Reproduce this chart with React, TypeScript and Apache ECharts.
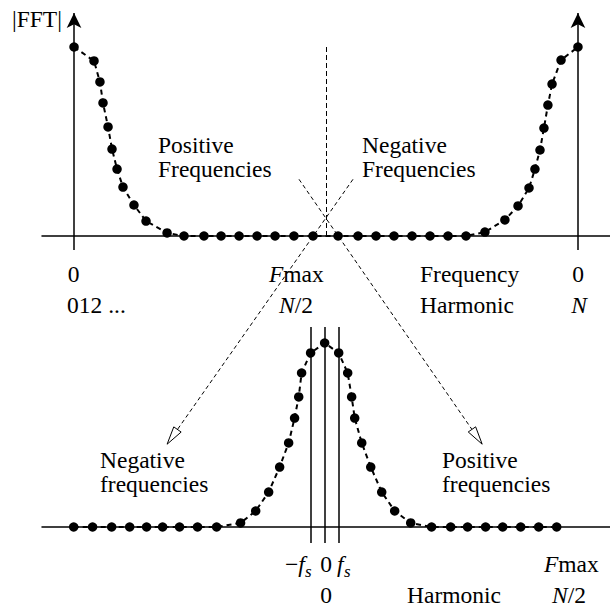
import React, { useEffect, useRef } from 'react';
import * as echarts from 'echarts';

// Top panel: harmonic index k (0..N) and |FFT| magnitude (peak = 1)
const topHarmonic = [
  0, 1.11, 1.44, 1.61, 1.89, 2.11, 2.39, 2.72, 3.33, 4.0, 5.17,
  6.11, 7.22, 8.17, 9.17, 10.17, 11.17, 12.22, 13.28,
  14.67, 15.78, 16.78, 17.78, 18.78, 19.78, 20.78, 21.78,
  22.83, 23.94, 24.67, 25.28, 25.61, 25.89, 26.11, 26.33, 26.56, 27.06, 28,
];
const topMagnitude = [
  1.0, 0.926, 0.815, 0.704, 0.577, 0.46, 0.354, 0.259, 0.164, 0.079, 0.016,
  0, 0, 0, 0, 0, 0, 0, 0,
  0, 0, 0, 0, 0, 0, 0, 0,
  0.021, 0.085, 0.159, 0.254, 0.354, 0.455, 0.571, 0.693, 0.804, 0.931, 1.0,
];

// Bottom panel: re-centred harmonic index (0 = DC) and magnitude
const bottomHarmonic = [
  -13.94, -12.89, -11.83, -10.83, -9.89, -9.0, -8.06, -7.06, -6.0,
  -4.67, -3.83, -3.11, -2.5, -2.0, -1.67, -1.44, -1.28, -0.78,
  0,
  0.78, 1.28, 1.5, 1.67, 2.06, 2.56, 3.17, 3.89, 4.78,
  5.94, 7.0, 7.94, 8.94, 9.89, 10.89, 11.89, 12.89,
];
const bottomMagnitude = [
  0, 0, 0, 0, 0, 0, 0, 0, 0,
  0.022, 0.087, 0.19, 0.326, 0.457, 0.592, 0.707, 0.837, 0.946,
  1.0,
  0.946, 0.837, 0.707, 0.592, 0.457, 0.326, 0.19, 0.087, 0.022,
  0, 0, 0, 0, 0, 0, 0, 0,
];

const N = 28;
const FS = 0.78;

// Texts
const yLabel = '|FFT|';
const topLeftLabel = ['Positive', 'Frequencies'];
const topRightLabel = ['Negative', 'Frequencies'];
const bottomLeftLabel = ['Negative', 'frequencies'];
const bottomRightLabel = ['Positive', 'frequencies'];
const topRow1 = ['0', '{i|F}max', 'Frequency', '0'];
const topRow2 = ['012 ...', '{i|N}/2', 'Harmonic', '{i|N}'];
const bottomRow1 = ['−{i|f}', '0', '{i|f}', '{i|F}max'];
const bottomRow2 = ['0', 'Harmonic', '{i|N}/2'];

// Diagonal mapping arrows: start in top-panel data, end in bottom-panel data
const arrowStarts = [[15.5, 0.3], [12.5, 0.3]];
const arrowEnds = [[-8.75, 0.45], [8.75, 0.45]];

const FONT = 'Liberation Serif';
const SIZE = 23.5;
const BLACK = '#000';

export default function App() {
  const ref = useRef<HTMLDivElement>(null);

  useEffect(() => {
    const chart = echarts.init(ref.current!, null, { renderer: 'svg' });

    const axisLine = { show: true, onZero: true, lineStyle: { color: BLACK, width: 1.5 } };
    const xCommon = {
      type: 'value',
      axisLine,
      axisTick: { show: false },
      axisLabel: { show: false },
      splitLine: { show: false },
    };
    const yCommon = {
      type: 'value',
      min: -0.1,
      max: 1.2,
      axisLine: { show: false },
      axisTick: { show: false },
      axisLabel: { show: false },
      splitLine: { show: false },
    };

    const curveStyle = {
      type: 'line',
      symbol: 'circle',
      symbolSize: 9.5,
      itemStyle: { color: BLACK },
      lineStyle: { color: BLACK, width: 2, type: [5, 4] },
      silent: true,
      z: 5,
    };

    const vline = (x: number, y0: number, y1: number, arrow: boolean, dashed: boolean) => [
      { coord: [x, y0], symbol: 'none' },
      {
        coord: [x, y1],
        symbol: arrow ? 'arrow' : 'none',
        symbolSize: [11, 15],
        lineStyle: { color: BLACK, width: dashed ? 1 : 1.5, type: dashed ? [5, 3] : 'solid' },
      },
    ];

    chart.setOption({
      animation: false,
      backgroundColor: '#fff',
      grid: [
        { left: 42, right: 0, top: 9.2, height: 245.7 },
        { left: 42, right: 0, top: 306.2, height: 239.2 },
      ],
      xAxis: [
        { ...xCommon, gridIndex: 0, min: -1.78, max: 29.78 },
        { ...xCommon, gridIndex: 1, min: -15.7, max: 15.85 },
      ],
      yAxis: [
        { ...yCommon, gridIndex: 0 },
        { ...yCommon, gridIndex: 1 },
      ],
      series: [
        {
          ...curveStyle,
          xAxisIndex: 0,
          yAxisIndex: 0,
          data: topHarmonic.map((k, i) => [k, topMagnitude[i]]),
          markLine: {
            silent: true,
            animation: false,
            label: { show: false },
            lineStyle: { color: BLACK, width: 1.5, type: 'solid' },
            data: [
              vline(0, -0.074, 1.18, true, false),
              vline(N, -0.074, 1.18, true, false),
              vline(N / 2, 0, 1.0, false, true),
            ],
          },
        },
        {
          ...curveStyle,
          xAxisIndex: 1,
          yAxisIndex: 1,
          data: bottomHarmonic.map((k, i) => [k, bottomMagnitude[i]]),
          markLine: {
            silent: true,
            animation: false,
            label: { show: false },
            lineStyle: { color: BLACK, width: 1.5, type: 'solid' },
            data: [
              vline(-FS, -0.087, 1.087, false, false),
              vline(0, -0.087, 1.087, false, false),
              vline(FS, -0.087, 1.087, false, false),
            ],
          },
        },
      ],
    });

    // Text labels
    const rich = { i: { fontStyle: 'italic', fontFamily: FONT, fontSize: SIZE, fill: BLACK } };
    const text = (s: string, x: number, baseline: number, align = 'left', size = SIZE, italic = false) => ({
      type: 'text',
      x,
      y: baseline - 0.3375 * size,
      silent: true,
      z: 10,
      style: {
        text: s,
        fontFamily: FONT,
        fontSize: size,
        fontStyle: italic ? 'italic' : 'normal',
        fill: BLACK,
        align,
        textAlign: align,
        verticalAlign: 'middle',
        textVerticalAlign: 'middle',
        rich,
      },
    });

    const labels = [
      text(yLabel, 12, 27),
      text(topLeftLabel[0], 158, 153),
      text(topLeftLabel[1], 158, 177),
      text(topRightLabel[0], 362, 153),
      text(topRightLabel[1], 362, 177),
      text(topRow1[0], 73.5, 282, 'center'),
      text(topRow1[1], 269, 282),
      text(topRow1[2], 420, 282),
      text(topRow1[3], 578, 282, 'center'),
      text(topRow2[0], 67, 313),
      text(topRow2[1], 279, 313),
      text(topRow2[2], 420, 313),
      text(topRow2[3], 579, 313, 'center'),
      text(bottomLeftLabel[0], 100, 468),
      text(bottomLeftLabel[1], 100, 492),
      text(bottomRightLabel[0], 442, 468),
      text(bottomRightLabel[1], 442, 492),
      text(bottomRow1[0], 285, 572),
      text('s', 305, 577, 'left', 17, true),
      text(bottomRow1[1], 326, 572, 'center'),
      text(bottomRow1[2], 337, 572),
      text('s', 344, 577, 'left', 17, true),
      text(bottomRow1[3], 544, 572),
      text(bottomRow2[0], 326, 603, 'center'),
      text(bottomRow2[1], 407, 603),
      text(bottomRow2[2], 552, 603),
    ];

    // Dashed mapping arrows with open heads
    const arrows: any[] = [];
    arrowStarts.forEach((s, i) => {
      const p0 = chart.convertToPixel({ gridIndex: 0 }, s) as number[];
      const p1 = chart.convertToPixel({ gridIndex: 1 }, arrowEnds[i]) as number[];
      const dx = p1[0] - p0[0];
      const dy = p1[1] - p0[1];
      const len = Math.hypot(dx, dy);
      const ux = dx / len;
      const uy = dy / len;
      const L = 18;
      const W = 4.5;
      const bx = p1[0] - ux * L;
      const by = p1[1] - uy * L;
      arrows.push({
        type: 'line',
        silent: true,
        z: 4,
        shape: { x1: p0[0], y1: p0[1], x2: bx, y2: by },
        style: { stroke: BLACK, lineWidth: 1, lineDash: [4, 3] },
      });
      arrows.push({
        type: 'polygon',
        silent: true,
        z: 4,
        shape: {
          points: [
            [p1[0], p1[1]],
            [bx - uy * W, by + ux * W],
            [bx + uy * W, by - ux * W],
          ],
        },
        style: { fill: '#fff', stroke: BLACK, lineWidth: 1 },
      });
    });

    chart.setOption({ graphic: { elements: [...arrows, ...labels] } });

    return () => chart.dispose();
  }, []);

  return (
    <div
      ref={ref}
      style={{ position: 'fixed', left: 0, top: 0, width: 610, height: 609, background: '#fff' }}
    />
  );
}
